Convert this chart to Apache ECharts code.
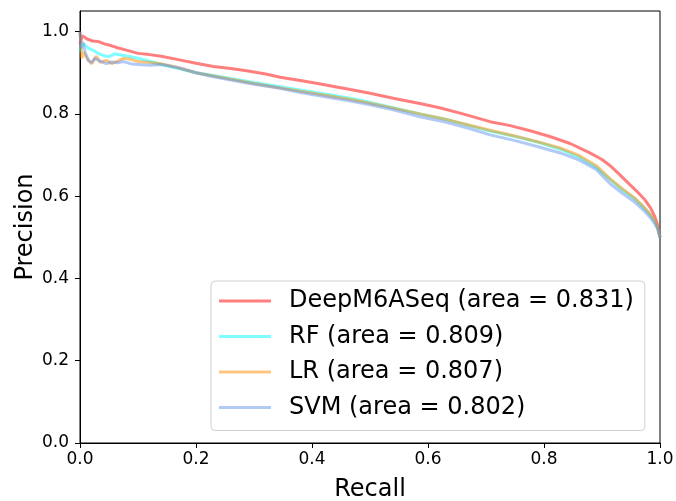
<!DOCTYPE html>
<html>
<head>
<meta charset="utf-8">
<script src="https://cdn.jsdelivr.net/npm/echarts@6/dist/echarts.min.js"></script>
<style>
html,body{margin:0;padding:0;background:#fff;}
#chart{width:676px;height:501px;}
</style>
</head>
<body>
<div id="chart"></div>
<script>
var xTicks = [0, 0.2, 0.4, 0.6, 0.8, 1.0];
var yTicks = [0, 0.2, 0.4, 0.6, 0.8, 1.0];

var seriesNames = [
  'DeepM6ASeq (area = 0.831)',
  'RF (area = 0.809)',
  'LR (area = 0.807)',
  'SVM (area = 0.802)'
];

var deepRecall = [0, 0.004, 0.012, 0.022, 0.031, 0.042, 0.053, 0.066, 0.08, 0.1, 0.12, 0.14, 0.165, 0.2, 0.23, 0.26, 0.29, 0.32, 0.345, 0.38, 0.41, 0.44, 0.466, 0.5, 0.54, 0.586, 0.62, 0.66, 0.707, 0.74, 0.776, 0.81, 0.845, 0.879, 0.9, 0.914, 0.93, 0.948, 0.962, 0.974, 0.984, 0.991, 0.996, 1.0];
var deepPrecision = [0.97, 0.99, 0.982, 0.977, 0.976, 0.97, 0.966, 0.96, 0.955, 0.947, 0.944, 0.94, 0.933, 0.923, 0.915, 0.91, 0.904, 0.897, 0.889, 0.881, 0.874, 0.866, 0.859, 0.85, 0.838, 0.825, 0.815, 0.8, 0.781, 0.772, 0.759, 0.745, 0.728, 0.705, 0.689, 0.674, 0.653, 0.628, 0.609, 0.591, 0.571, 0.55, 0.53, 0.5];

var rfRecall = [0, 0.003, 0.008, 0.014, 0.022, 0.031, 0.04, 0.05, 0.06, 0.075, 0.09, 0.1, 0.12, 0.14, 0.17, 0.2, 0.23, 0.26, 0.3, 0.345, 0.38, 0.42, 0.466, 0.5, 0.54, 0.586, 0.63, 0.67, 0.707, 0.75, 0.79, 0.828, 0.86, 0.89, 0.914, 0.935, 0.955, 0.97, 0.982, 0.991, 0.996, 1.0];
var rfPrecision = [0.95, 0.97, 0.968, 0.96, 0.955, 0.947, 0.942, 0.939, 0.946, 0.942, 0.938, 0.935, 0.928, 0.92, 0.91, 0.9, 0.893, 0.886, 0.876, 0.866, 0.858, 0.849, 0.838, 0.828, 0.815, 0.8, 0.787, 0.772, 0.758, 0.745, 0.731, 0.714, 0.695, 0.67, 0.64, 0.615, 0.595, 0.575, 0.557, 0.538, 0.522, 0.5];

var lrRecall = [0, 0.003, 0.006, 0.01, 0.015, 0.02, 0.028, 0.035, 0.045, 0.055, 0.065, 0.075, 0.09, 0.1, 0.12, 0.14, 0.17, 0.2, 0.23, 0.26, 0.3, 0.345, 0.38, 0.42, 0.466, 0.5, 0.54, 0.586, 0.63, 0.67, 0.707, 0.75, 0.79, 0.828, 0.86, 0.89, 0.914, 0.935, 0.955, 0.97, 0.982, 0.991, 0.996, 1.0];
var lrPrecision = [1.0, 0.935, 0.95, 0.94, 0.93, 0.922, 0.94, 0.925, 0.93, 0.922, 0.928, 0.935, 0.932, 0.927, 0.925, 0.922, 0.912, 0.9, 0.892, 0.884, 0.874, 0.863, 0.855, 0.846, 0.835, 0.826, 0.814, 0.8, 0.787, 0.773, 0.76, 0.746, 0.732, 0.717, 0.699, 0.674, 0.642, 0.618, 0.597, 0.577, 0.558, 0.54, 0.524, 0.5];

var svmRecall = [0, 0.002, 0.005, 0.009, 0.014, 0.02, 0.026, 0.035, 0.045, 0.055, 0.065, 0.075, 0.09, 0.1, 0.12, 0.14, 0.17, 0.2, 0.23, 0.26, 0.3, 0.345, 0.38, 0.42, 0.466, 0.5, 0.54, 0.586, 0.63, 0.67, 0.707, 0.75, 0.79, 0.828, 0.86, 0.89, 0.914, 0.935, 0.955, 0.97, 0.982, 0.991, 0.996, 1.0];
var svmPrecision = [1.0, 0.96, 0.975, 0.95, 0.93, 0.925, 0.935, 0.928, 0.922, 0.926, 0.924, 0.927, 0.921, 0.92, 0.918, 0.92, 0.912, 0.9, 0.89, 0.882, 0.872, 0.862, 0.852, 0.842, 0.831, 0.822, 0.81, 0.793, 0.78, 0.765, 0.749, 0.735, 0.72, 0.705, 0.688, 0.665, 0.63, 0.607, 0.587, 0.568, 0.55, 0.533, 0.52, 0.5];

var seriesColors = ['rgba(255,0,0,0.5)', 'rgba(0,255,255,0.5)', 'rgba(255,140,0,0.5)', 'rgba(100,149,237,0.5)'];

function pairs(xs, ys) { return xs.map(function (x, i) { return [x, ys[i]]; }); }
var allData = [
  pairs(deepRecall, deepPrecision),
  pairs(rfRecall, rfPrecision),
  pairs(lrRecall, lrPrecision),
  pairs(svmRecall, svmPrecision)
];

var FONT = 'DejaVu Sans';
var chart = echarts.init(document.getElementById('chart'), null, {renderer: 'canvas'});
var option = {
  animation: false,
  backgroundColor: '#fff',
  textStyle: {fontFamily: FONT},
  grid: {left: 80, top: 11, width: 580, height: 432, show: true, borderColor: '#000', borderWidth: 1,
    backgroundColor: 'transparent', containLabel: false, outerBoundsMode: 'none'},
  xAxis: {
    type: 'value', min: 0, max: 1,
    name: 'Recall', nameLocation: 'middle', nameGap: 35, nameMoveOverlap: false,
    nameTextStyle: {fontSize: 24, color: '#000', fontFamily: FONT},
    axisLine: {show: true, onZero: false, lineStyle: {color: '#000', width: 1}},
    axisTick: {show: true, inside: false, length: 5, lineStyle: {color: '#000'}, customValues: xTicks},
    axisLabel: {show: true, margin: 8, fontSize: 17, color: '#000', fontFamily: FONT, customValues: xTicks,
      formatter: function (v) { return v.toFixed(1); }},
    splitLine: {show: false}
  },
  yAxis: {
    type: 'value', min: 0, max: 1.05,
    name: 'Precision', nameLocation: 'middle', nameGap: 42, nameMoveOverlap: false,
    nameTextStyle: {fontSize: 24, color: '#000', fontFamily: FONT},
    axisLine: {show: true, onZero: false, lineStyle: {color: '#000', width: 1}},
    axisTick: {show: true, inside: false, length: 5, lineStyle: {color: '#000'}, customValues: yTicks},
    axisLabel: {show: true, margin: 11, fontSize: 17, color: '#000', fontFamily: FONT, customValues: yTicks,
      formatter: function (v) { return v.toFixed(1); }},
    splitLine: {show: false}
  },
  legend: {
    orient: 'vertical', left: 211, top: 281,
    data: seriesNames,
    icon: 'rect', itemWidth: 52, itemHeight: 3, itemGap: 7.5,
    padding: [6, 11, 9, 8],
    backgroundColor: '#fff', borderColor: '#d0d0d0', borderWidth: 1, borderRadius: 4,
    textStyle: {fontSize: 24, color: '#000', fontFamily: FONT, lineHeight: 28, padding: [0, 0, 0, 13]}
  },
  series: allData.map(function (d, i) {
    return {
      name: seriesNames[i], type: 'line', data: d, symbol: 'none', showSymbol: false,
      color: seriesColors[i],
      lineStyle: {width: 3, color: seriesColors[i]},
      z: 2 + i
    };
  })
};
chart.setOption(option);
</script>
</body>
</html>
